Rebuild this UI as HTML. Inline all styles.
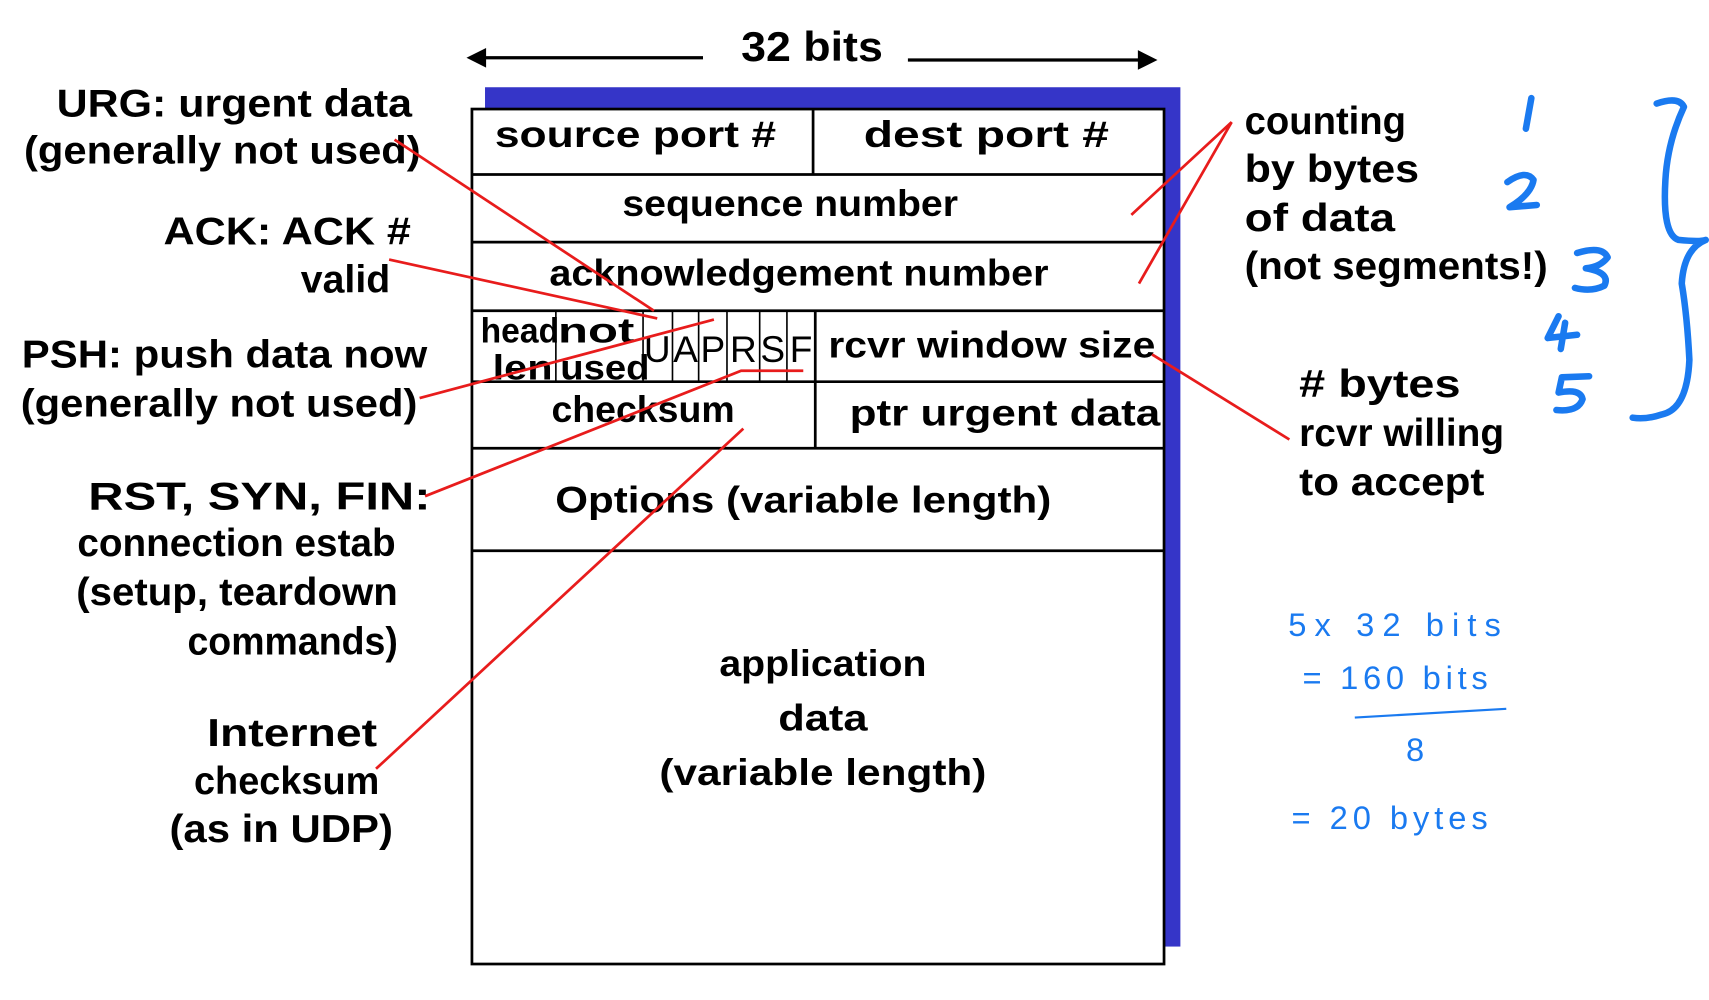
<!DOCTYPE html>
<html><head><meta charset="utf-8"><style>html,body{margin:0;padding:0;background:#fff}svg{display:block}</style></head>
<body>
<svg width="1709" height="1000" viewBox="0 0 1568 917" preserveAspectRatio="none" xmlns="http://www.w3.org/2000/svg" font-family="Liberation Sans, DejaVu Sans, sans-serif">
<rect width="1568" height="917" fill="#fff"/>
<line x1="440" y1="53" x2="645" y2="53" stroke="#000" stroke-width="3"/>
<polygon points="428,53 446,44 446,62" fill="#000"/>
<line x1="833" y1="55" x2="1050" y2="55" stroke="#000" stroke-width="3"/>
<polygon points="1062,55 1044,46 1044,64" fill="#000"/>
<text x="745" y="56" font-size="38" font-weight="bold" text-anchor="middle" textLength="130" lengthAdjust="spacingAndGlyphs">32 bits</text>
<rect x="445" y="80" width="638" height="788" fill="#3535c8"/>
<rect x="433" y="100" width="635" height="784" fill="#fff" stroke="#000" stroke-width="2.5"/>
<g stroke="#000" stroke-width="2.5">
<line x1="433" y1="160" x2="1068" y2="160"/>
<line x1="433" y1="222" x2="1068" y2="222"/>
<line x1="433" y1="285" x2="1068" y2="285"/>
<line x1="433" y1="350" x2="1068" y2="350"/>
<line x1="433" y1="411" x2="1068" y2="411"/>
<line x1="433" y1="505" x2="1068" y2="505"/>
<line x1="746" y1="100" x2="746" y2="160"/>
<line x1="748" y1="285" x2="748" y2="411"/>
</g>
<g stroke="#000" stroke-width="1.5">
<line x1="510" y1="285" x2="510" y2="350"/>
<line x1="590" y1="285" x2="590" y2="350"/>
<line x1="617" y1="285" x2="617" y2="350"/>
<line x1="641" y1="285" x2="641" y2="350"/>
<line x1="667" y1="285" x2="667" y2="350"/>
<line x1="697" y1="285" x2="697" y2="350"/>
<line x1="722" y1="285" x2="722" y2="350"/>
</g>
<g font-size="34" font-weight="bold" fill="#000">
<text x="583" y="135" text-anchor="middle" textLength="258" lengthAdjust="spacingAndGlyphs">source port #</text>
<text x="905" y="135" text-anchor="middle" textLength="225" lengthAdjust="spacingAndGlyphs">dest port #</text>
<text x="725" y="198" text-anchor="middle" textLength="308" lengthAdjust="spacingAndGlyphs">sequence number</text>
<text x="733" y="262" text-anchor="middle" textLength="458" lengthAdjust="spacingAndGlyphs">acknowledgement number</text>
<text x="441" y="314" font-size="32" textLength="72" lengthAdjust="spacingAndGlyphs">head</text>
<text x="452" y="348" font-size="32" textLength="55" lengthAdjust="spacingAndGlyphs">len</text>
<text x="512" y="314" font-size="32" textLength="70" lengthAdjust="spacingAndGlyphs">not</text>
<text x="514" y="348" font-size="32" textLength="82" lengthAdjust="spacingAndGlyphs">used</text>
<text x="603" y="332" text-anchor="middle" font-size="34" font-weight="normal">U</text>
<text x="629" y="332" text-anchor="middle" font-size="34" font-weight="normal">A</text>
<text x="654" y="332" text-anchor="middle" font-size="34" font-weight="normal">P</text>
<text x="682" y="332" text-anchor="middle" font-size="34" font-weight="normal">R</text>
<text x="709" y="332" text-anchor="middle" font-size="34" font-weight="normal">S</text>
<text x="735" y="332" text-anchor="middle" font-size="34" font-weight="normal">F</text>
<text x="910" y="328" text-anchor="middle" textLength="300" lengthAdjust="spacingAndGlyphs">rcvr window size</text>
<text x="590" y="387" text-anchor="middle" textLength="168" lengthAdjust="spacingAndGlyphs">checksum</text>
<text x="922" y="390" text-anchor="middle" textLength="285" lengthAdjust="spacingAndGlyphs">ptr urgent data</text>
<text x="737" y="470" text-anchor="middle" textLength="455" lengthAdjust="spacingAndGlyphs">Options (variable length)</text>
<text x="755" y="620" text-anchor="middle" textLength="190" lengthAdjust="spacingAndGlyphs">application</text>
<text x="755" y="670" text-anchor="middle" textLength="82" lengthAdjust="spacingAndGlyphs">data</text>
<text x="755" y="720" text-anchor="middle" textLength="300" lengthAdjust="spacingAndGlyphs">(variable length)</text>
</g>
<g font-size="36" font-weight="bold" fill="#000" text-anchor="end">
<text x="378" y="107" textLength="326" lengthAdjust="spacingAndGlyphs">URG: urgent data</text>
<text x="386" y="150" textLength="364" lengthAdjust="spacingAndGlyphs">(generally not used)</text>
<text x="377" y="224" textLength="227" lengthAdjust="spacingAndGlyphs">ACK: ACK #</text>
<text x="358" y="268" textLength="82" lengthAdjust="spacingAndGlyphs">valid</text>
<text x="392" y="337" textLength="372" lengthAdjust="spacingAndGlyphs">PSH: push data now</text>
<text x="383" y="382" textLength="364" lengthAdjust="spacingAndGlyphs">(generally not used)</text>
<text x="395" y="467" textLength="314" lengthAdjust="spacingAndGlyphs">RST, SYN, FIN:</text>
<text x="363" y="510" textLength="292" lengthAdjust="spacingAndGlyphs">connection estab</text>
<text x="365" y="555" textLength="295" lengthAdjust="spacingAndGlyphs">(setup, teardown</text>
<text x="365" y="600" textLength="193" lengthAdjust="spacingAndGlyphs">commands)</text>
</g>
<g font-size="36" font-weight="bold" fill="#000" text-anchor="middle">
<text x="268" y="684" textLength="156" lengthAdjust="spacingAndGlyphs">Internet</text>
<text x="263" y="728" textLength="170" lengthAdjust="spacingAndGlyphs">checksum</text>
<text x="258" y="772" textLength="205" lengthAdjust="spacingAndGlyphs">(as in UDP)</text>
</g>
<g font-size="36" font-weight="bold" fill="#000">
<text x="1142" y="123" textLength="148" lengthAdjust="spacingAndGlyphs">counting</text>
<text x="1142" y="167" textLength="160" lengthAdjust="spacingAndGlyphs">by bytes</text>
<text x="1142" y="212" textLength="138" lengthAdjust="spacingAndGlyphs">of data</text>
<text x="1142" y="256" textLength="278" lengthAdjust="spacingAndGlyphs">(not segments!)</text>
<text x="1192" y="364" textLength="148" lengthAdjust="spacingAndGlyphs">#  bytes</text>
<text x="1192" y="409" textLength="188" lengthAdjust="spacingAndGlyphs">rcvr willing</text>
<text x="1192" y="454" textLength="170" lengthAdjust="spacingAndGlyphs">to accept</text>
</g>
<g stroke="#e81c1c" stroke-width="2.5" fill="none">
<line x1="362" y1="128" x2="600" y2="285"/>
<line x1="357" y1="238" x2="603" y2="292"/>
<line x1="385" y1="365" x2="655" y2="293"/>
<polyline points="390,455 680,340 737,340"/>
<line x1="345" y1="705" x2="682" y2="393"/>
<polyline points="1038,197 1130,112 1045,260"/>
<line x1="1057" y1="325" x2="1183" y2="403"/>
</g>
<g stroke="#1a7af0" fill="none" stroke-width="6" stroke-linecap="round" stroke-linejoin="round">
<path d="M1405,90 L1400,118"/>
<path d="M1383,167 Q1400,155 1407,165 Q1405,178 1385,190 L1410,188"/>
<path d="M1447,232 Q1470,225 1475,236 Q1468,245 1455,246 Q1478,250 1472,262 Q1460,268 1445,264"/>
<path d="M1430,290 L1420,310 L1447,307 M1436,296 L1432,320"/>
<path d="M1458,345 L1433,346 L1430,360 Q1450,356 1452,366 Q1448,378 1428,376"/>
<path d="M1520,95 Q1540,88 1545,98 Q1530,130 1528,165 Q1525,215 1540,220 Q1560,222 1565,220 Q1545,228 1543,260 Q1548,290 1550,330 Q1548,375 1525,380 Q1510,385 1498,383"/>
</g>
<g stroke="#1a7af0" fill="none" stroke-width="2">
<line x1="1243" y1="658" x2="1382" y2="650"/>
</g>
<g font-size="30" fill="#1a7af0">
<text x="1182" y="583" textLength="195" lengthAdjust="spacing">5x 32 bits</text>
<text x="1195" y="632" textLength="170" lengthAdjust="spacing">= 160 bits</text>
<text x="1290" y="698">8</text>
<text x="1185" y="760" textLength="180" lengthAdjust="spacing">= 20 bytes</text>
</g>
</svg>
</body></html>
